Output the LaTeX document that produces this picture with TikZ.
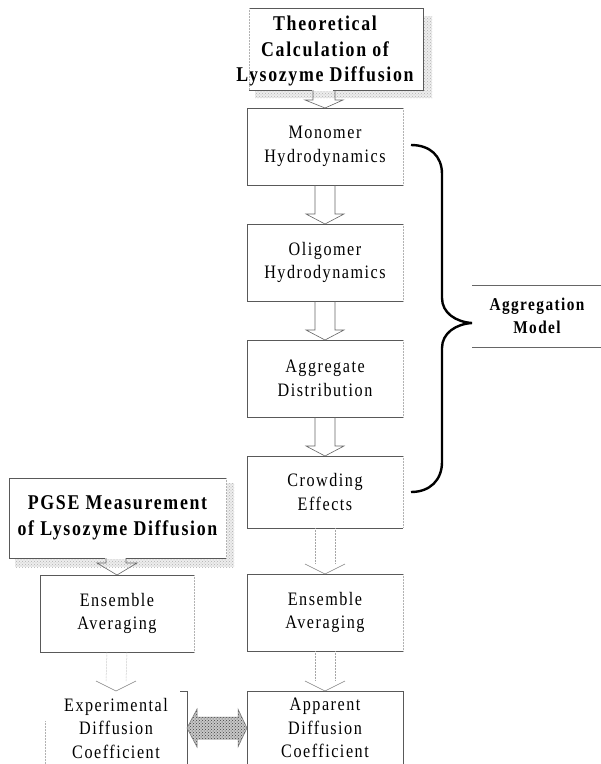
\documentclass[tikz,border=0pt]{standalone}
\usepackage{fontspec}
\setmainfont{Liberation Serif}[FakeStretch=0.85, LetterSpace=8]
\usetikzlibrary{calc,patterns}
\newcommand\rgfont{\fontsize{19}{23.5}\selectfont}
\newcommand\bdfont{\fontsize{21}{25.5}\selectfont\bfseries}
\newcommand\agfont{\fontsize{18}{23}\selectfont\bfseries}
\tikzset{
  edge/.style={draw=black!65, line width=0.7pt},
  faintedge/.style={draw=black!30, line width=0.5pt, densely dotted},
  shadow/.style={fill=black!7, postaction={pattern=crosshatch dots, pattern color=black!30}},
  boxnode/.style={inner sep=0pt, outer sep=0pt, align=center, font=\rgfont},
  hollow/.style={draw=black!60, line width=0.6pt},
  faintshaft/.style={draw=black!35, line width=0.5pt, densely dotted},
  brace/.style={draw=black, line width=2.4pt},
}
% hollow arrow: #1 = start of shaft (centre), #2 = tip
\newcommand\hollowarrow[2]{%
  \draw[hollow] ($(#1)+(-10,0)$) -- ($(#2)+(-10,-10)$) -- ($(#2)+(-19,-10)$) -- (#2)
     -- ($(#2)+(19,-10)$) -- ($(#2)+(10,-10)$) -- ($(#1)+(10,0)$);}
% faint arrow
\newcommand\faintarrow[2]{%
  \draw[faintshaft] ($(#1)+(-10,0)$) -- ($(#2)+(-10,-10)$);
  \draw[faintshaft] ($(#1)+(10,0)$) -- ($(#2)+(10,-10)$);
  \draw[hollow,draw=black!50] ($(#2)+(-20,-10)$) -- (#2) -- ($(#2)+(20,-10)$);}
\begin{document}
\begin{tikzpicture}[x=1pt,y=-1pt]
\useasboundingbox (0,0) rectangle (601,764);
\fill[white] (0,0) rectangle (601,764);

% ---------- boxes (nodes) ----------
\node[boxnode, minimum width=174pt, minimum height=82pt] (theo) at (336,49) {};
\node[boxnode, font=\bdfont] (theot) at (325,51) {Theoretical\\Calculation of\\Lysozyme Diffusion};

\node[boxnode, minimum width=156pt, minimum height=77pt] (mono) at (325,146.5) {Monomer\\Hydrodynamics};
\node[boxnode, minimum width=156pt, minimum height=77pt] (olig) at (325,262.5) {Oligomer\\Hydrodynamics};
\node[boxnode, minimum width=156pt, minimum height=77pt] (aggr) at (325,378.5) {Aggregate\\Distribution};
\node[boxnode, minimum width=156pt, minimum height=72pt] (crowd) at (325,492) {Crowding\\Effects};
\node[boxnode, minimum width=156pt, minimum height=77pt] (ensR) at (325,612.5) {Ensemble\\Averaging};
\node[boxnode, minimum width=156pt, minimum height=74pt] (app) at (325,728) {Apparent\\Diffusion\\Coefficient};

\node[boxnode, minimum width=217pt, minimum height=80pt, font=\bdfont] (pgse) at (117.5,518) {PGSE Measurement\\of Lysozyme Diffusion};
\node[boxnode, minimum width=154pt, minimum height=77pt] (ensL) at (117,613.5) {Ensemble\\Averaging};
\node[boxnode, minimum width=142pt, minimum height=74pt] (expt) at (116,728) {Experimental\\Diffusion\\Coefficient};

\node[boxnode, font=\agfont] (aggm) at (537,316) {Aggregation\\Model};

% ---------- shadows ----------
\fill[shadow] (theo.north east)++(1,8) rectangle ($(theo.south east)+(9,8)$);
\fill[shadow] ($(theo.south west)+(6,1)$) rectangle ($(theo.south east)+(1,8)$);
\fill[shadow] (pgse.north east)++(1,5) rectangle ($(pgse.south east)+(8,9)$);
\fill[shadow] ($(pgse.south west)+(6,1)$) rectangle ($(pgse.south east)+(1,9)$);

% ---------- box edges ----------
% theoretical
\draw[edge] (theo.north west) -- (theo.north east) -- (theo.south east) -- ($(theo.south)+(-3,0)$);
\draw[edge] ($(theo.south)+(-24,0)$) -- (theo.south west);
\draw[faintedge] (theo.north west) -- (theo.south west);
% column boxes
\foreach \b in {mono,olig,aggr,crowd,ensR,ensL}{
  \draw[edge] (\b.north east) -- (\b.north west) -- (\b.south west) -- (\b.south east);
  \draw[faintedge] (\b.north east) -- (\b.south east);
}
% apparent (open at bottom)
\draw[edge] (app.south west) -- (app.north west) -- (app.north east) -- (app.south east);
% PGSE
\draw[edge] (pgse.north east) -- (pgse.north west) -- (pgse.south west) -- ($(pgse.south)+(-12.5,0)$);
\draw[edge] ($(pgse.south)+(8.5,0)$) -- (pgse.south east);
\draw[faintedge] (pgse.north east) -- (pgse.south east);
% experimental (only right edge visible)
\draw[edge] ($(expt.north east)+(-7,0)$) -- (expt.north east) -- (expt.south east);
\draw[faintedge] ($(expt.north west)+(0,30)$) -- (expt.south west);

% ---------- connectors ----------
\coordinate (s0) at (mono.north |- theo.south);
\draw[hollow] ($(s0)+(-12,0)$) -- ($(mono.north)+(-12,-8)$) -- ($(mono.north)+(-20,-8)$) -- (mono.north)
   -- ($(mono.north)+(18,-8)$) -- ($(mono.north)+(10,-8)$) -- ($(s0)+(10,0)$);
\hollowarrow{mono.south}{olig.north}
\hollowarrow{olig.south}{aggr.north}
\hollowarrow{aggr.south}{crowd.north}
\faintarrow{crowd.south}{ensR.north}
\faintarrow{ensR.south}{app.north}

\coordinate (s1) at (ensL.north |- pgse.south);
\draw[hollow] ($(s1)+(-11,0)$) -- ($(ensL.north)+(-11,-12)$) -- ($(ensL.north)+(-20,-12)$) -- (ensL.north)
   -- ($(ensL.north)+(20,-12)$) -- ($(ensL.north)+(9,-12)$) -- ($(s1)+(9,0)$);
\faintarrow{ensL.south}{expt.north}

% double arrow between experimental and apparent
\path (expt.east) coordinate (dl) (app.west) coordinate (dr);
\path[fill=black!22, postaction={pattern=crosshatch dots, pattern color=black!75}]
  (dl) -- ($(dl)+(10,-19)$) -- ($(dl)+(10,-11)$) -- ($(dr)+(-9,-11)$) -- ($(dr)+(-9,-19)$) -- (dr)
  -- ($(dr)+(-9,19)$) -- ($(dr)+(-9,11)$) -- ($(dl)+(10,11)$) -- ($(dl)+(10,19)$) -- cycle;
\draw[draw=black!55, line width=0.5pt]
  (dl) -- ($(dl)+(10,-19)$) -- ($(dl)+(10,-11)$) -- ($(dr)+(-9,-11)$) -- ($(dr)+(-9,-19)$) -- (dr)
  -- ($(dr)+(-9,19)$) -- ($(dr)+(-9,11)$) -- ($(dl)+(10,11)$) -- ($(dl)+(10,19)$) -- cycle;

% ---------- brace and aggregation model ----------
\coordinate (bt) at (411,145);
\coordinate (bp) at (472,323);
\coordinate (bb) at (411,492);
\draw[brace] (bt) .. controls (430,145) and (442,156) .. (442,174) -- (442,298)
  .. controls (442,313) and (456,322) .. (bp)
  .. controls (456,324) and (442,333) .. (442,348) -- (442,462)
  .. controls (442,480) and (430,492) .. (bb);
\draw[draw=black!60, line width=1pt] (bp |- 0,285) -- (601,285);
\draw[draw=black!60, line width=1pt] (bp |- 0,347) -- (601,347);
\end{tikzpicture}
\end{document}
